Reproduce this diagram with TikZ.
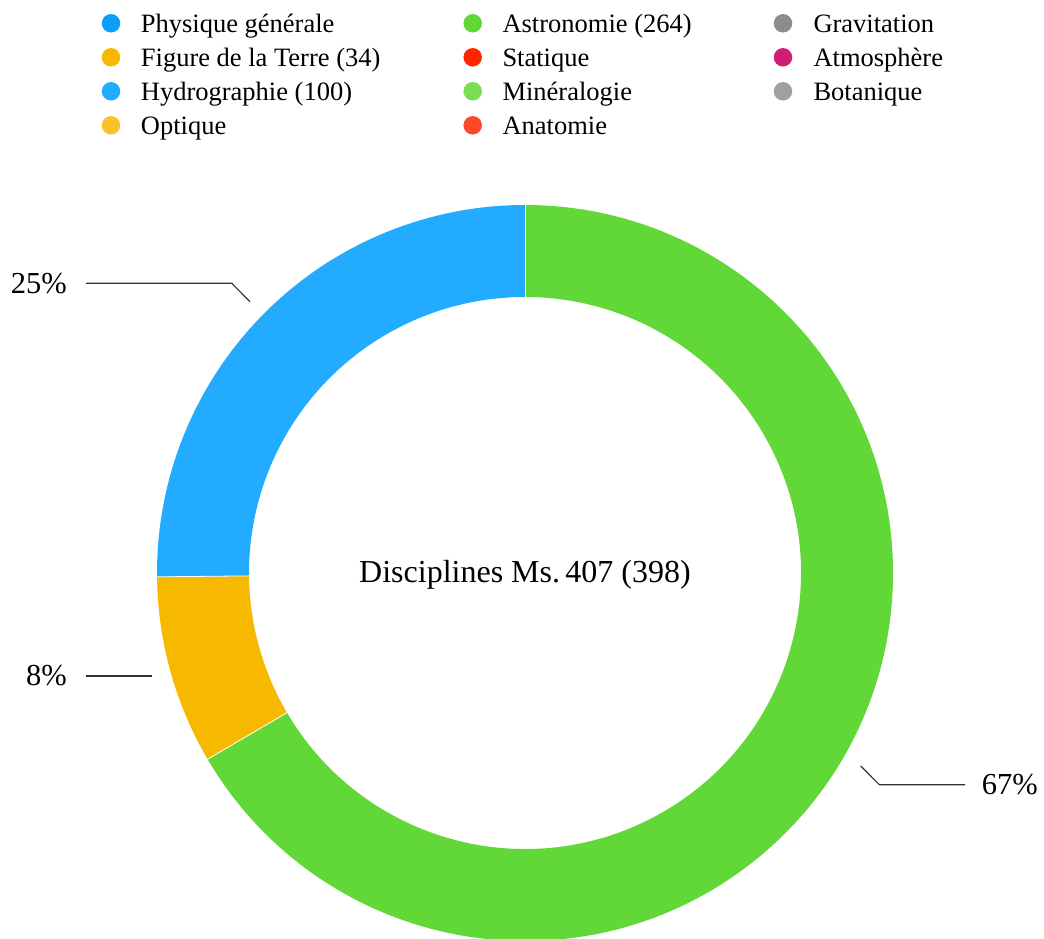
\documentclass[tikz,border=0pt]{standalone}
\usepackage{fontspec}
\setmainfont{Liberation Serif}
\usetikzlibrary{calc}
\definecolor{cPhys}{HTML}{0BA0F5}
\definecolor{cFig}{HTML}{F7B800}
\definecolor{cHydro}{HTML}{22ABFF}
\definecolor{cOpt}{HTML}{FBC228}
\definecolor{cAstro}{HTML}{62D838}
\definecolor{cStat}{HTML}{FF2600}
\definecolor{cMin}{HTML}{78DF52}
\definecolor{cAna}{HTML}{FF4828}
\definecolor{cGrav}{HTML}{8C8C8C}
\definecolor{cAtm}{HTML}{D11D77}
\definecolor{cBot}{HTML}{A0A0A0}
\definecolor{cLine}{HTML}{333333}
\tikzset{
  legdot/.style={circle, inner sep=0pt, minimum size=18.5pt, fill=#1},
  legtext/.style={anchor=base west, inner sep=0pt, font=\fontsize{26.5}{30}\selectfont},
  pcttext/.style={inner sep=0pt, font=\fontsize{30.5}{34}\selectfont},
  centertext/.style={anchor=base, inner sep=0pt, font=\fontsize{32}{36}\selectfont},
  leader/.style={draw=cLine, line width=1.2pt}
}
\begin{document}
\begin{tikzpicture}[x=1pt,y=1pt]
\useasboundingbox (0,0) rectangle (1044,938);
\clip (0,0) rectangle (1044,938);
\fill[white] (0,0) rectangle (1044,938);
% donut
\begin{scope}[shift={(525,365)}]
  \fill[cAstro] (90:368) arc[start angle=90, end angle=-149.6, radius=368]
     -- (-149.6:276) arc[start angle=-149.6, end angle=90, radius=276] -- cycle;
  \fill[cFig] (210.4:368) arc[start angle=210.4, end angle=180.6, radius=368]
     -- (180.6:276) arc[start angle=180.6, end angle=210.4, radius=276] -- cycle;
  \fill[cHydro] (180.6:368) arc[start angle=180.6, end angle=90, radius=368]
     -- (90:276) arc[start angle=90, end angle=180.6, radius=276] -- cycle;
  \draw[white, line width=0.8pt] (90:275.5) -- (90:368.5);
  \draw[white, line width=0.8pt] (210.4:275.5) -- (210.4:368.5);
  \draw[white, line width=0.8pt] (180.6:275.5) -- (180.6:368.5);
\end{scope}
\node[centertext] (title) at (525,355.7) {Disciplines Ms.\,407 (398)};
% percentage labels and leaders
\node[pcttext, anchor=base east] (p25) at (67,644.7) {25\%};
\coordinate (s25) at (86,654.7);
\coordinate (k25) at (231.7,654.7);
\coordinate (e25) at (250,636.3);
\draw[leader] (s25) -- (k25) -- (e25);
\node[pcttext, anchor=base east] (p8) at (67,253) {8\%};
\coordinate (s8) at (86,262);
\coordinate (e8) at (152,262);
\draw[leader] (s8) -- (e8);
\node[pcttext, anchor=base west] (p67) at (981.7,143.7) {67\%};
\coordinate (s67) at (965,153.3);
\coordinate (k67) at (879.3,153.3);
\coordinate (e67) at (860.7,172);
\draw[leader] (s67) -- (k67) -- (e67);
% legend column 1
\node[legdot=cPhys] (d1) at (111,914.7) {};
\node[legtext] (t1) at (140.7,905) {Physique générale};
\node[legdot=cFig] (d2) at (111,880.7) {};
\node[legtext] (t2) at (140.7,871) {Figure de la Terre (34)};
\node[legdot=cHydro] (d3) at (111,846.7) {};
\node[legtext] (t3) at (140.7,837) {Hydrographie (100)};
\node[legdot=cOpt] (d4) at (111,812.7) {};
\node[legtext] (t4) at (140.7,803) {Optique};
% legend column 2
\node[legdot=cAstro] (d5) at (472.7,914.7) {};
\node[legtext] (t5) at (502.3,905) {Astronomie (264)};
\node[legdot=cStat] (d6) at (472.7,880.7) {};
\node[legtext] (t6) at (502.3,871) {Statique};
\node[legdot=cMin] (d7) at (472.7,846.7) {};
\node[legtext] (t7) at (502.3,837) {Minéralogie};
\node[legdot=cAna] (d8) at (472.7,812.7) {};
\node[legtext] (t8) at (502.3,803) {Anatomie};
% legend column 3
\node[legdot=cGrav] (d9) at (783,914.7) {};
\node[legtext] (t9) at (813.3,905) {Gravitation};
\node[legdot=cAtm] (d10) at (783,880.7) {};
\node[legtext] (t10) at (813.3,871) {Atmosphère};
\node[legdot=cBot] (d11) at (783,846.7) {};
\node[legtext] (t11) at (813.3,837) {Botanique};
\end{tikzpicture}
\end{document}
